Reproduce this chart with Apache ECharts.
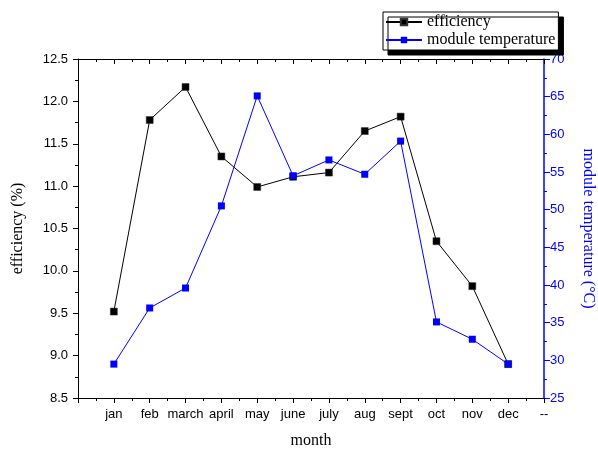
<!DOCTYPE html>
<html>
<head>
<meta charset="utf-8">
<script src="https://cdn.jsdelivr.net/npm/echarts@6/dist/echarts.min.js"></script>
<style>
html,body{margin:0;padding:0;background:#fff;}
#chart{width:598px;height:450px;}
</style>
</head>
<body>
<div id="chart"></div>
<script>
var months = ['jan','feb','march','april','may','june','july','aug','sept','oct','nov','dec'];
var xTickLabels = ['jan','feb','march','april','may','june','july','aug','sept','oct','nov','dec','--'];
var efficiency = [9.52, 11.78, 12.17, 11.35, 10.99, 11.11, 11.16, 11.65, 11.82, 10.35, 9.82, 8.90];
var moduleTemp = [29.5, 36.95, 39.6, 50.5, 65.1, 54.5, 56.6, 54.7, 59.1, 35.1, 32.8, 29.5];

var effData = efficiency.map(function(v, i){ return [i + 1, v]; });
var tempData = moduleTemp.map(function(v, i){ return [i + 1, v]; });

var SERIF = '"Liberation Serif", "Times New Roman", serif';
var SANS = '"Liberation Sans", Arial, sans-serif';
var BLUE = '#0000ff';

var chart = echarts.init(document.getElementById('chart'), null, {renderer: 'canvas'});
chart.setOption({
  animation: false,
  backgroundColor: '#fff',
  grid: {left: 78, right: 54, top: 59, bottom: 52, containLabel: false, outerBoundsMode: 'none'},
  legend: {
    orient: 'vertical',
    left: 383,
    top: 12,
    padding: [2, 3, 2, 2],
    itemWidth: 36,
    itemHeight: 8,
    itemGap: 2,
    borderColor: '#000',
    borderWidth: 1,
    borderRadius: 0,
    backgroundColor: '#fff',
    shadowColor: '#000',
    shadowBlur: 0,
    shadowOffsetX: 5,
    shadowOffsetY: 5,
    textStyle: {fontFamily: SERIF, fontSize: 16, color: '#000'},
    data: ['efficiency', 'module temperature']
  },
  xAxis: [{
    type: 'value',
    min: 0, max: 13, interval: 1,
    position: 'bottom',
    name: 'month',
    nameLocation: 'middle',
    nameGap: 35,
    nameTextStyle: {fontFamily: SERIF, fontSize: 16, color: '#000'},
    axisLine: {show: true, onZero: false, lineStyle: {color: '#000', width: 1}},
    axisTick: {show: true, inside: false, length: 5, lineStyle: {color: '#000'}},
    minorTick: {show: true, splitNumber: 2, length: 3, lineStyle: {color: '#000'}},
    splitLine: {show: false},
    axisLabel: {
      margin: 10,
      fontFamily: SANS, fontSize: 13, color: '#000',
      formatter: function(v){ return v >= 1 ? xTickLabels[v - 1] : ''; }
    }
  }, {
    type: 'value',
    min: 0, max: 13, interval: 1,
    position: 'top',
    axisLine: {show: true, onZero: false, lineStyle: {color: '#000', width: 1}},
    axisTick: {show: true, inside: true, length: 5, lineStyle: {color: '#000'}},
    minorTick: {show: true, splitNumber: 2, length: 3, lineStyle: {color: '#000'}},
    splitLine: {show: false},
    axisLabel: {show: false}
  }],
  yAxis: [{
    type: 'value',
    min: 8.5, max: 12.5, interval: 0.5,
    position: 'left',
    name: 'efficiency (%)',
    nameLocation: 'middle',
    nameGap: 52,
    nameRotate: 90,
    nameTextStyle: {fontFamily: SERIF, fontSize: 16, color: '#000'},
    axisLine: {show: true, onZero: false, lineStyle: {color: '#000', width: 1}},
    axisTick: {show: true, inside: false, length: 5, lineStyle: {color: '#000'}},
    minorTick: {show: true, splitNumber: 2, length: 3, lineStyle: {color: '#000'}},
    splitLine: {show: false},
    axisLabel: {
      margin: 10, fontFamily: SANS, fontSize: 13, color: '#000',
      formatter: function(v){ return v.toFixed(1); }
    }
  }, {
    type: 'value',
    min: 25, max: 70, interval: 5,
    position: 'right',
    name: 'module temperature (\u00B0C)',
    nameLocation: 'middle',
    nameGap: 36,
    nameRotate: -90,
    nameTextStyle: {fontFamily: SERIF, fontSize: 16, color: BLUE},
    axisLine: {show: true, onZero: false, lineStyle: {color: BLUE, width: 1.5}},
    axisTick: {show: true, inside: false, length: 6, lineStyle: {color: BLUE}},
    minorTick: {show: true, splitNumber: 2, length: 3, lineStyle: {color: BLUE}},
    splitLine: {show: false},
    axisLabel: {margin: 6, fontFamily: SANS, fontSize: 13, color: BLUE}
  }],
  series: [{
    name: 'efficiency',
    type: 'line',
    xAxisIndex: 0,
    yAxisIndex: 0,
    data: effData,
    symbol: 'rect',
    symbolSize: 7,
    lineStyle: {color: '#000', width: 1},
    itemStyle: {color: '#000', borderColor: '#333', borderWidth: 0.5},
    z: 3
  }, {
    name: 'module temperature',
    type: 'line',
    xAxisIndex: 0,
    yAxisIndex: 1,
    data: tempData,
    symbol: 'rect',
    symbolSize: 7,
    lineStyle: {color: BLUE, width: 1},
    itemStyle: {color: BLUE},
    z: 4
  }]
});
</script>
</body>
</html>
